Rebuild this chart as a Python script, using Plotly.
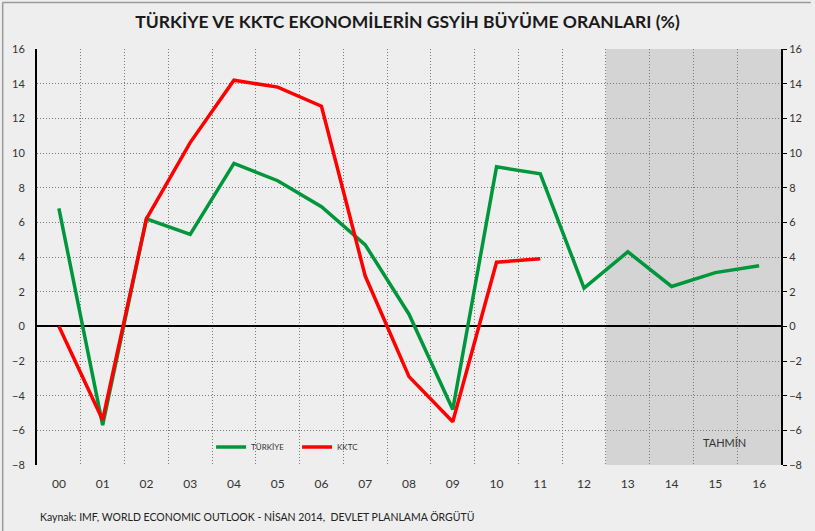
import plotly.graph_objects as go

years = ["00", "01", "02", "03", "04", "05", "06", "07", "08", "09", "10", "11", "12", "13", "14", "15", "16"]
turkiye = [6.8, -5.7, 6.2, 5.3, 9.4, 8.4, 6.9, 4.7, 0.7, -4.8, 9.2, 8.8, 2.2, 4.3, 2.3, 3.1, 3.5]
kktc = [0.0, -5.4, 6.2, 10.6, 14.2, 13.8, 12.7, 2.9, -2.9, -5.5, 3.7, 3.9]
y_ticks = list(range(-8, 17, 2))
forecast_start = "13"

GREEN = "#00963C"
RED = "#FF0000"
BG = "#EEEEEE"
FONT = "Lato"
GRID = "#7A7A7A"
DOT = "1px,2px"

fig = go.Figure()
fig.add_trace(go.Scatter(x=years, y=turkiye, mode="lines", name="TÜRKİYE",
                         line=dict(color=GREEN, width=3.5)))
fig.add_trace(go.Scatter(x=years[:len(kktc)], y=kktc, mode="lines", name="KKTC",
                         line=dict(color=RED, width=3.5)))
# invisible trace to activate right axis
fig.add_trace(go.Scatter(x=years, y=turkiye, yaxis="y2", mode="lines",
                         line=dict(width=0), hoverinfo="skip", showlegend=False, opacity=0))

i0 = years.index(forecast_start) - 0.5
fig.add_shape(type="rect", xref="x", yref="y", x0=i0, x1=len(years) - 0.5,
              y0=y_ticks[0], y1=y_ticks[-1], fillcolor="#D4D4D4", line=dict(width=0), layer="below")

# outer border (top and left edges visible)
px = lambda p: (p - 37) / 748
py = lambda p: (465 - p) / 416
fig.add_shape(type="line", xref="paper", yref="paper", x0=px(2.5), x1=px(815), y0=py(2.5), y1=py(2.5),
              line=dict(color="#9A9A9A", width=1.5))
fig.add_shape(type="line", xref="paper", yref="paper", x0=px(2.5), x1=px(2.5), y0=py(2.5), y1=py(531),
              line=dict(color="#9A9A9A", width=1.5))

fig.add_annotation(x=15.2, y=-6.7, xref="x", yref="y", text="TAHMİN", showarrow=False,
                   font=dict(family=FONT, size=11, color="#333333"))
fig.add_annotation(x=px(38), y=py(516), xref="paper", yref="paper",
                   xanchor="left", yanchor="middle", showarrow=False,
                   text="Kaynak: IMF, WORLD ECONOMIC OUTLOOK - NİSAN 2014,  DEVLET PLANLAMA ÖRGÜTÜ",
                   font=dict(family=FONT, size=10.5, color="#222222"))

fig.update_layout(
    width=815, height=531,
    margin=dict(l=37, r=30, t=49, b=66),
    paper_bgcolor=BG, plot_bgcolor=BG,
    title=dict(text="<b>TÜRKİYE VE KKTC EKONOMİLERİN GSYİH BÜYÜME ORANLARI (%)</b>",
               x=0.5, xanchor="center", y=1 - 22 / 531, yanchor="middle",
               font=dict(family=FONT, size=17.5, color="#1a1a1a")),
    showlegend=True,
    legend=dict(orientation="h", x=px(212), y=py(447),
                xanchor="left", yanchor="middle", bgcolor="rgba(0,0,0,0)",
                font=dict(family=FONT, size=8, color="#333333"),
                entrywidth=41, entrywidthmode="pixels"),
    xaxis=dict(type="category", range=[-0.5, len(years) - 0.5], tickson="boundaries",
               showgrid=True, griddash=DOT, gridcolor=GRID, gridwidth=1,
               ticks="", showline=False, zeroline=False, ticklabelstandoff=10,
               tickfont=dict(family=FONT, size=12, color="#333333")),
    yaxis=dict(range=[y_ticks[0], y_ticks[-1]], tickvals=y_ticks,
               showgrid=True, griddash=DOT, gridcolor=GRID, gridwidth=1,
               zeroline=True, zerolinecolor="black", zerolinewidth=2,
               showline=True, linecolor="black", linewidth=2, ticks="", ticklabelstandoff=8,
               tickfont=dict(family=FONT, size=11, color="#333333")),
    yaxis2=dict(range=[y_ticks[0], y_ticks[-1]], tickvals=y_ticks, overlaying="y", side="right",
                showgrid=False, zeroline=False, showline=True, linecolor="black", linewidth=2,
                ticks="outside", ticklen=4, tickcolor="black",
                tickfont=dict(family=FONT, size=11, color="#333333")),
)

fig.write_html("out.html", config={"displayModeBar": False},
               post_script="document.body.style.margin='0';document.body.style.background='#EEEEEE';")
